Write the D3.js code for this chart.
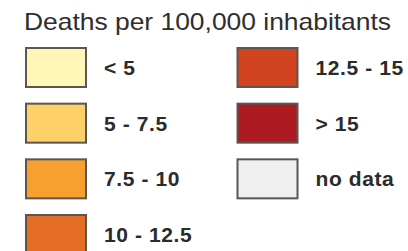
<!DOCTYPE html>
<html>
<head>
<meta charset="utf-8">
<script src="https://cdn.jsdelivr.net/npm/d3@7"></script>
<style>
  html, body { margin: 0; padding: 0; background: #fff; }
  svg { display: block; }
</style>
</head>
<body>
<div class="canvas"></div>
<script>
// legend data
const title = 'Deaths per 100,000 inhabitants';
const classes = ['< 5', '5 - 7.5', '7.5 - 10', '10 - 12.5', '12.5 - 15', '> 15', 'no data'];
const colors = ['#fff5b6', '#fed068', '#f8a02f', '#e46f24', '#d2441f', '#ae1a21', '#efefef'];

// graph setup
const dims = { width: 408, height: 251 };

const svg = d3.select('.canvas')
  .append('svg')
  .attr('width', dims.width)
  .attr('height', dims.height);

// title
svg.append('text')
  .attr('x', 24)
  .attr('y', 29.5)
  .attr('fill', '#2e2e2e')
  .style('font-family', 'Liberation Sans, Arial, sans-serif')
  .style('font-size', '24px')
  .attr('textLength', 367)
  .attr('lengthAdjust', 'spacingAndGlyphs')
  .text(title);

// layout scales: 4 rows in first column, rest in second
const perCol = 4;
const col = d3.scaleOrdinal().domain([0, 1]).range([26, 237.5]);
const row = d3.scaleLinear().domain([0, 3]).range([48, 215]);

const items = classes.map((c, i) => ({
  label: c,
  color: colors[i],
  c: Math.floor(i / perCol),
  r: i % perCol
}));

const g = svg.selectAll('.item')
  .data(items)
  .enter()
  .append('g')
    .attr('class', 'item')
    .attr('transform', d => `translate(${col(d.c)}, ${row(d.r)})`);

g.append('rect')
  .attr('width', 60)
  .attr('height', 39)
  .attr('fill', d => d.color)
  .attr('stroke', '#5a5652')
  .attr('stroke-width', 2);

g.append('text')
  .attr('x', 78)
  .attr('y', 19.5)
  .attr('dy', '0.36em')
  .attr('fill', '#2b2b2b')
  .style('font-family', 'Liberation Sans, Arial, sans-serif')
  .style('font-size', '21px')
  .style('font-weight', 'bold')
  .style('letter-spacing', '0.6px')
  .text(d => d.label);
</script>
</body>
</html>
